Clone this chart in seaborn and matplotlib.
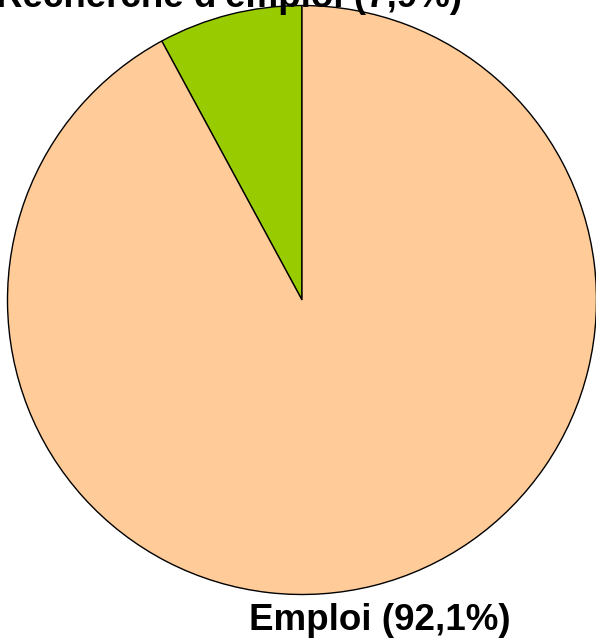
import seaborn as sns
import matplotlib.pyplot as plt

# share of population (%)
labels = ["Recherche d'emploi", "Emploi"]
shares = [7.9, 92.1]
colors = ["#99CC00", "#FFCC99"]

sns.set_theme(style="white")
plt.rcParams['font.family'] = ['Liberation Sans', 'DejaVu Sans']

W, H = 596, 640
fig = plt.figure(figsize=(W / 100, H / 100), dpi=100)
ax = fig.add_axes([0, 0, 1, 1])

cx, cy, r = 302, H - 300, 294.5
ax.pie(shares, colors=colors, startangle=90, counterclock=True,
       center=(cx, cy), radius=r,
       wedgeprops=dict(edgecolor="black", linewidth=1))
ax.set_xlim(0, W)
ax.set_ylim(0, H)
ax.set_aspect('equal', adjustable='box')
ax.axis('off')

# label positions in pixels (x centre, baseline y from top)
label_pos = [(229, 7), (380, 630)]
for lab, val, (px, py) in zip(labels, shares, label_pos):
    txt = f"{lab} ({val:.1f}%)".replace(".", ",")
    ax.text(px, H - py, txt, ha="center", va="baseline",
            fontsize=26.5, fontweight="bold", color="black")

plt.savefig("out.png", dpi=100)
plt.close()
